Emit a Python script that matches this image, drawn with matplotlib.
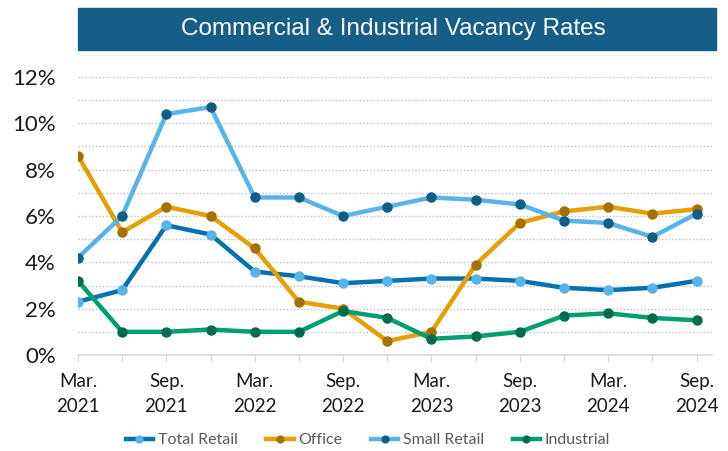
import matplotlib.pyplot as plt
from matplotlib.patches import Rectangle

quarters = ['Mar.\n2021', 'Jun.\n2021', 'Sep.\n2021', 'Dec.\n2021',
            'Mar.\n2022', 'Jun.\n2022', 'Sep.\n2022', 'Dec.\n2022',
            'Mar.\n2023', 'Jun.\n2023', 'Sep.\n2023', 'Dec.\n2023',
            'Mar.\n2024', 'Jun.\n2024', 'Sep.\n2024']

total_retail = [2.3, 2.8, 5.6, 5.2, 3.6, 3.4, 3.1, 3.2, 3.3, 3.3, 3.2, 2.9, 2.8, 2.9, 3.2]
office = [8.6, 5.3, 6.4, 6.0, 4.6, 2.3, 2.0, 0.6, 1.0, 3.9, 5.7, 6.2, 6.4, 6.1, 6.3]
small_retail = [4.2, 6.0, 10.4, 10.7, 6.8, 6.8, 6.0, 6.4, 6.8, 6.7, 6.5, 5.8, 5.7, 5.1, 6.1]
industrial = [3.2, 1.0, 1.0, 1.1, 1.0, 1.0, 1.9, 1.6, 0.7, 0.8, 1.0, 1.7, 1.8, 1.6, 1.5]

series = [
    ('Total Retail', total_retail, '#0072B2', '#56B4E9'),
    ('Office', office, '#E69F00', '#A67000'),
    ('Small Retail', small_retail, '#56B4E9', '#0E5E86'),
    ('Industrial', industrial, '#009E73', '#006B4E'),
]

fig = plt.figure(figsize=(7.28, 4.51), dpi=100)
ax = fig.add_axes([78 / 728, 1 - 355 / 451, 634 / 728, 278 / 451])

x = list(range(len(quarters)))
for name, vals, lc, mc in series:
    ax.plot(x, vals, color=lc, lw=3.2, marker='o', ms=6.5,
            markerfacecolor=mc, markeredgecolor=mc, label=name, zorder=3)

ax.set_ylim(0, 12)
ax.set_xlim(0, 14.35)
ax.set_yticks(range(0, 13, 2))
ax.set_yticklabels([f'{v}%' for v in range(0, 13, 2)], fontsize=16,
                   family='Lato', color='#1a1a1a')
for v in range(1, 13):
    ax.axhline(v, color='#bfbfbf', lw=1, ls=(0, (1, 1.5)), zorder=1)

ax.set_xticks(x)
ax.set_xticklabels([q if i % 2 == 0 else '' for i, q in enumerate(quarters)],
                   fontsize=13.5, family='Lato', color='#1a1a1a', linespacing=1.55)
ax.tick_params(axis='x', length=5, color='#d9d9d9', pad=8)
ax.tick_params(axis='y', length=0, pad=16)

for s in ['top', 'right', 'left']:
    ax.spines[s].set_visible(False)
ax.spines['bottom'].set_color('#d9d9d9')
ax.spines['bottom'].set_linewidth(1.2)

# title banner
fig.patches.append(Rectangle((78 / 728, 1 - 50 / 451), 638 / 728, 42 / 451,
                             transform=fig.transFigure, color='#155E86', zorder=0))
fig.text(393 / 728, 1 - 29 / 451, 'Commercial & Industrial Vacancy Rates',
         ha='center', va='center', color='white', fontsize=17.5, family='Liberation Sans')

leg = fig.legend(loc='center', bbox_to_anchor=(368 / 728, 1 - 440 / 451), ncol=4,
                 frameon=False, handlelength=1.7, columnspacing=1.8, markerscale=0.75,
                 handletextpad=0.3, prop={'family': 'Lato', 'size': 11.5})
for t in leg.get_texts():
    t.set_color('#595959')

fig.savefig('out.png', dpi=100)
